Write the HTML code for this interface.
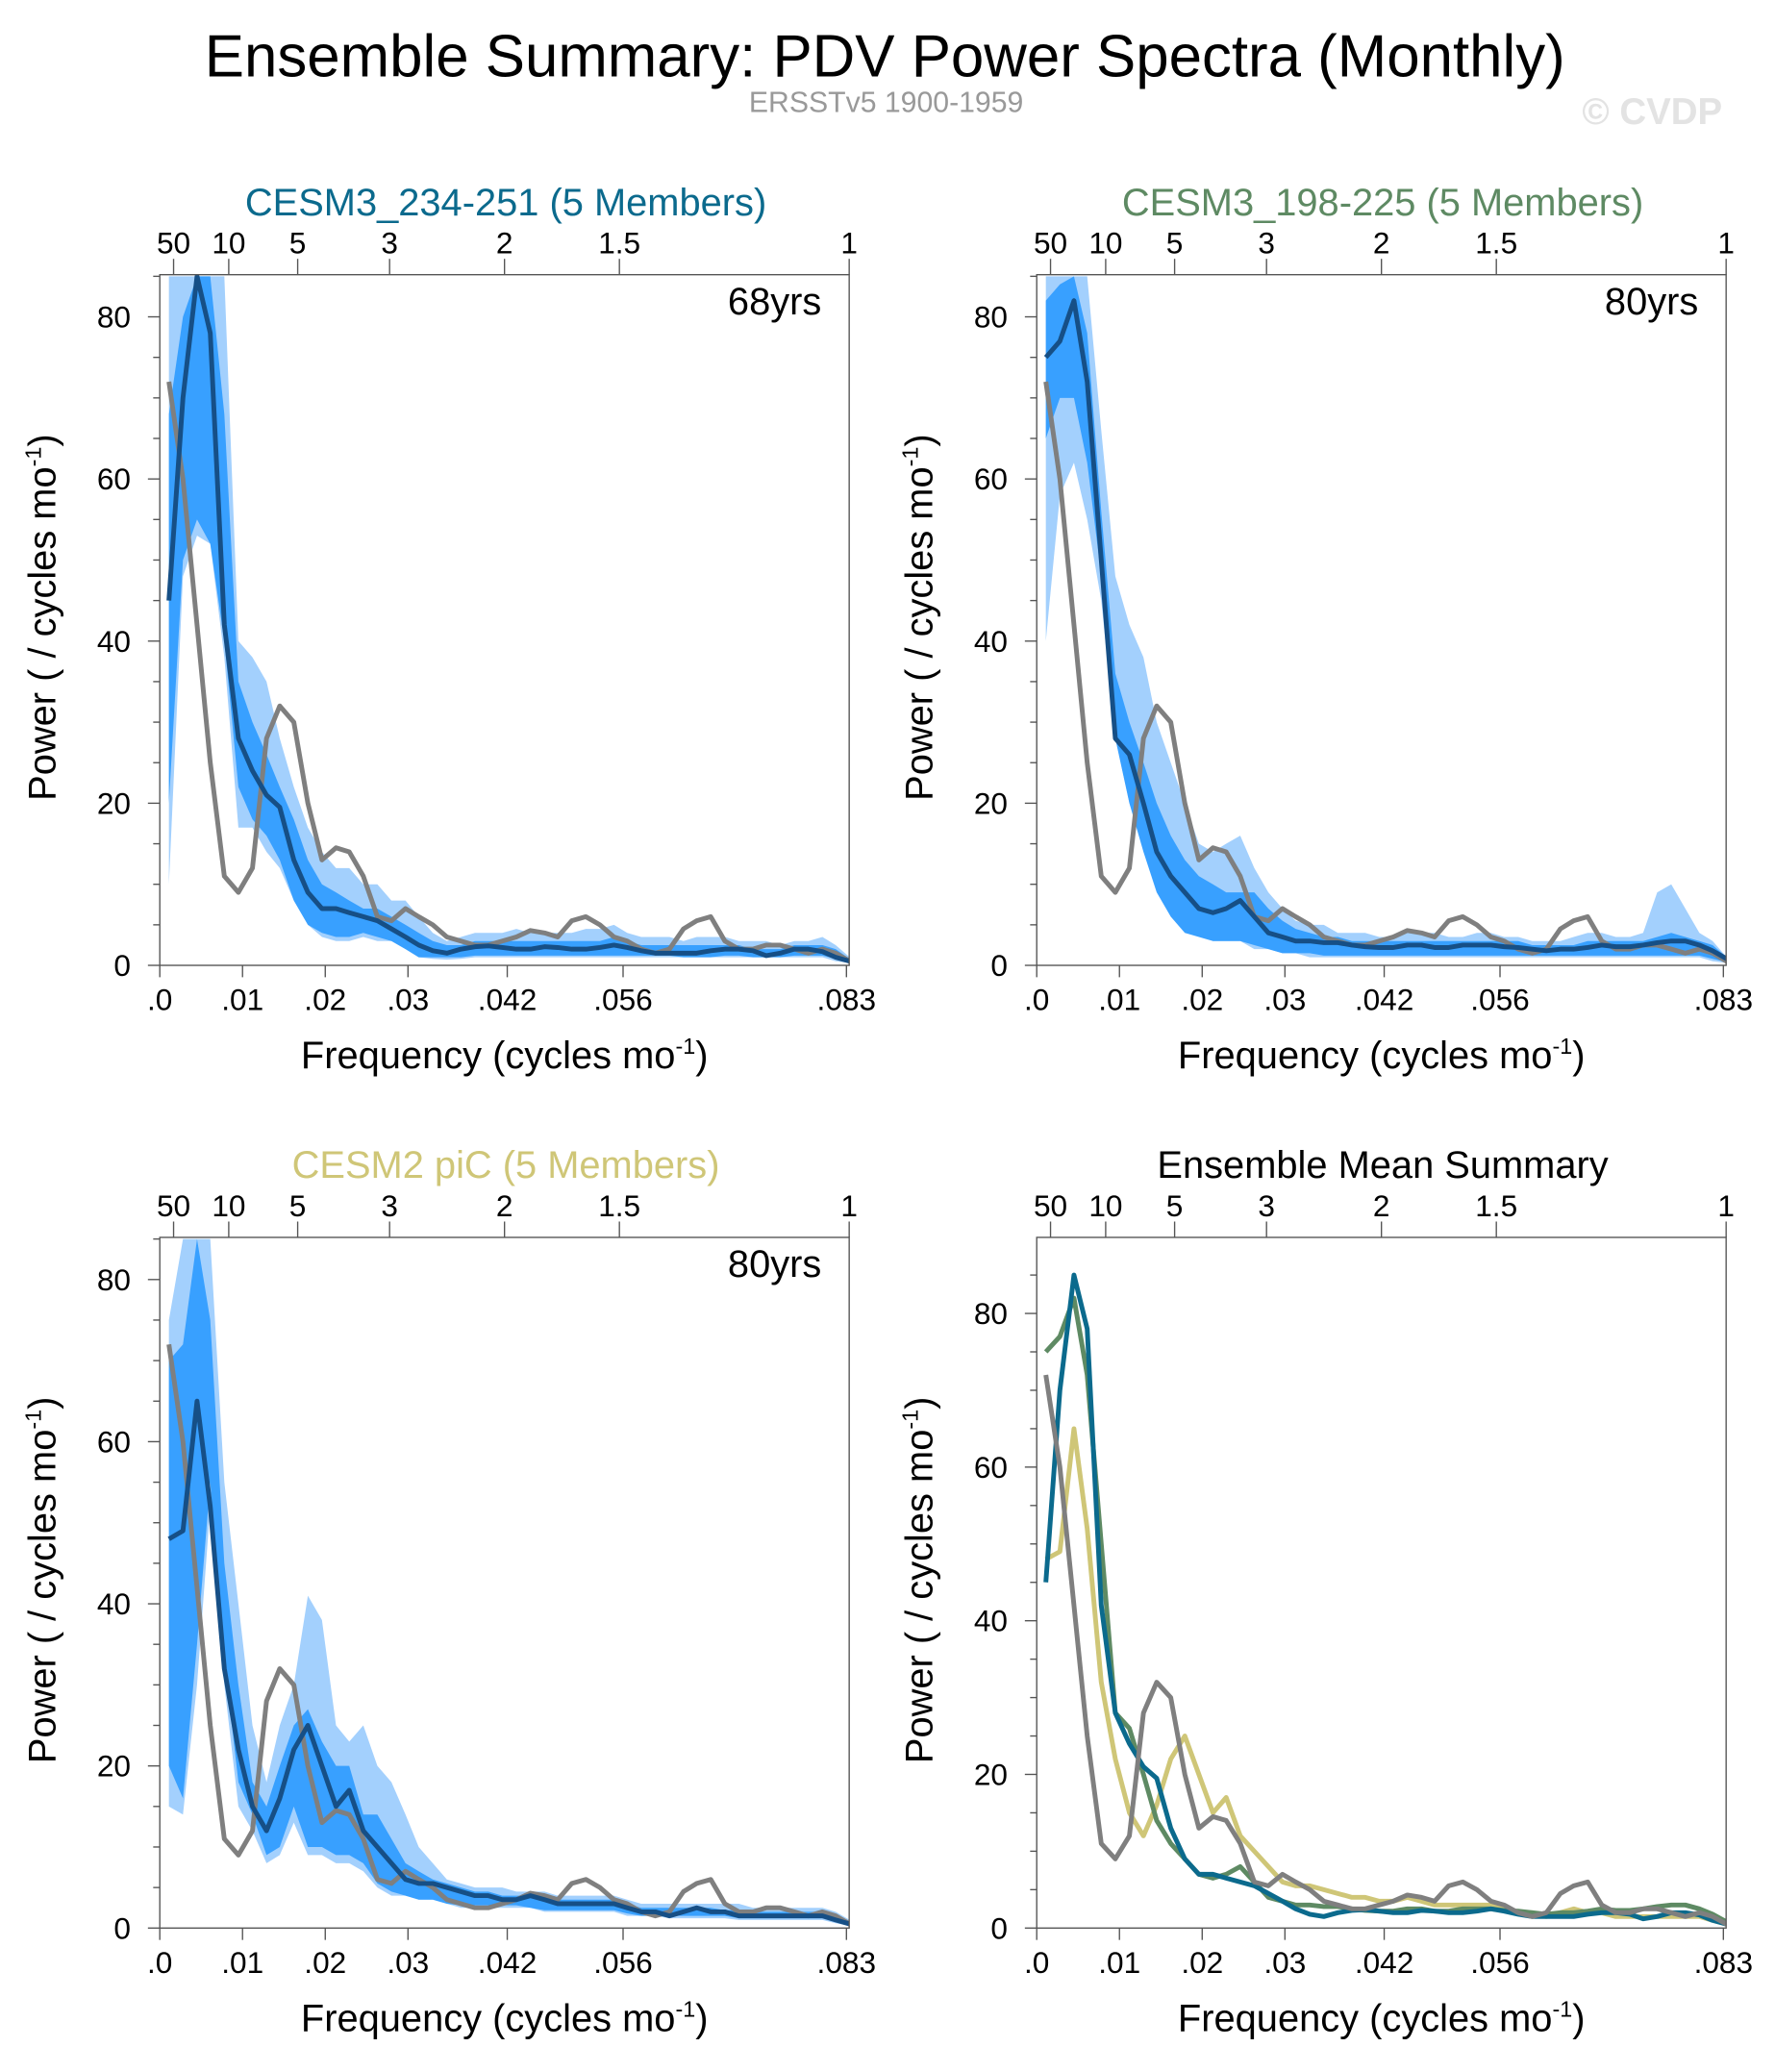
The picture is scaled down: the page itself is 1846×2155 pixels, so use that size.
<!DOCTYPE html>
<html><head><meta charset="utf-8">
<style>
html,body{margin:0;padding:0;background:#fff;}
svg{display:block;font-family:"Liberation Sans",sans-serif;}
</style></head>
<body>
<svg id="fig" width="1846" height="2155" viewBox="0 0 1344 1569" preserveAspectRatio="none" xmlns="http://www.w3.org/2000/svg">
<text x="670" y="58" font-size="45" text-anchor="middle" fill="#000">Ensemble Summary: PDV Power Spectra (Monthly)</text>
<text x="671" y="85" font-size="22" text-anchor="middle" fill="#999">ERSSTv5 1900-1959</text>
<text x="1251" y="94" font-size="28" font-weight="bold" text-anchor="middle" fill="#e3e3e3">© CVDP</text>
</svg>
<script>
// frequency (cycles per month)
const freqs = [0.0011,0.0028,0.0045,0.0061,0.0078,0.0095,0.0112,0.0129,0.0145,0.0162,0.0179,0.0196,0.0213,0.0229,0.0246,0.0263,0.0280,0.0297,0.0313,0.0330,0.0347,0.0364,0.0381,0.0397,0.0414,0.0431,0.0448,0.0465,0.0481,0.0498,0.0515,0.0532,0.0549,0.0565,0.0582,0.0599,0.0616,0.0633,0.0649,0.0666,0.0683,0.0700,0.0717,0.0733,0.0750,0.0767,0.0784,0.0801,0.0817,0.0834];
const obs = [72,60,42,25,11,9,12,28,32,30,20,13,14.5,14,11,6,5.5,7,6,5,3.5,3,2.5,2.5,3,3.5,4.3,4,3.5,5.5,6,5,3.5,3,2,1.5,2,4.5,5.5,6,3,2,2,2.5,2.5,2,1.5,2,1.5,0.5];
const mean1 = [45,70,85,78,42,28,24,21,19.5,13,9,7,7,6.5,6,5.5,4.5,3.5,2.5,1.8,1.5,2,2.3,2.4,2.2,2,2,2.3,2.2,2,2,2.2,2.5,2.2,1.8,1.5,1.5,1.5,1.5,1.8,2,2,1.8,1.2,1.5,2,2,1.7,1,0.5];
const lightHi1 = [85,85,85,85,85,40,38,35,28,22,17,14,12,12,10,10,8,8,6,4,3,3.5,4,4,4,4.5,4,4,4,4,4.5,4.5,5,4,3.5,3.5,3.5,3,3.5,3.5,3.5,3,3,3,2.5,3,3,3.5,2.5,1];
const lightLo1 = [10,48,53,52,38,17,17,14,12,8,5,3.5,3,3,3.5,3,3,2,1,0.8,0.7,0.8,1,1,1,1,1,1,1,1,1,1,1,1,1,1,1,1,1,1,1,1,1,1,1,1,1,1,0.5,0.3];
const midHi1 = [68,80,85,85,68,35,30,26,22,18,13,10,9,8,7,7,6,5,4,3,2.5,2.5,3,3,3,3,3,3,3,3,3,3,3.5,3,2.5,2.5,2.5,2.5,2.5,2.5,2.5,2.5,2,2,2,2.5,2.5,2.5,2,0.8];
const midLo1 = [20,50,55,52,40,22,18,16,13,8,5,4,3.5,3.5,4,3.5,3,2,1,1,1,1,1.2,1.2,1.2,1.2,1.2,1.2,1.2,1.2,1.2,1.2,1.2,1.2,1.2,1.2,1.2,1,1,1,1.2,1.2,1,1,1,1.2,1.2,1.2,0.8,0.3];
const mean2 = [75,77,82,72,50,28,26,20,14,11,9,7,6.5,7,8,6,4,3.5,3,3,2.8,2.8,2.5,2.3,2.2,2.2,2.5,2.5,2.2,2.2,2.5,2.5,2.5,2.3,2.2,2,1.8,2,2,2.2,2.5,2.3,2.3,2.5,2.8,3,3,2.5,1.8,0.8];
const lightHi2 = [85,85,85,85,66,48,42,38,30,25,20,15,14,15,16,12,9,7,5.5,5,5,4,4,4,3.5,3.5,4,4,4,3.5,3.5,4,4,3.5,3.5,3,3,3,3.5,4,4,3.5,3.5,4,9,10,7,4,3,1];
const lightLo2 = [40,58,62,55,45,28,20,15,10,7,5,4,3,3,3,2,2,1.5,1.5,1,1,1,1,1,1,1,1,1,1,1,1,1,1,1,1,1,1,1,1,1,1,1,1,1,1,1,1,1,0.5,0.3];
const midHi2 = [82,84,85,78,56,36,30,25,20,16,13,11,10,9,9,9,7,5.5,4.5,4,3.5,3.5,3,3,3,3,3,3,3,3,3,3,3,3,3,2.5,2.5,2.5,2.5,3,3,3,3,3,3.5,4,3.5,3,2.5,1];
const midLo2 = [65,70,70,62,48,28,20,14,9,6,4,3.5,3,3,3,2.5,2,1.5,1.5,1.5,1.2,1.2,1.2,1.2,1.2,1.2,1.2,1.2,1.2,1.2,1.2,1.2,1.2,1.2,1.2,1.2,1.2,1.2,1.2,1.2,1.2,1.2,1.2,1.2,1.2,1.2,1.2,1.2,0.8,0.4];
const mean3 = [48,49,65,52,32,22,15,12,16,22,25,20,15,17,12,10,8,6,5.5,5.5,5,4.5,4,4,3.5,3.5,4,3.5,3,3,3,3,3,2.5,2,2,1.5,2,2.5,2,2,1.5,1.5,1.5,1.5,1.5,1.5,1.5,1,0.5];
const lightHi3 = [75,85,85,85,55,40,25,18,25,30,41,38,25,23,25,20,18,14,10,8,6,5.5,5,5,5,4.5,4.5,4.5,4,4,4,4,4,3.5,3,3,3,3,3,3,3,3,2.5,2.5,2.5,2.5,2.5,2.5,2,1];
const lightLo3 = [15,14,30,52,30,15,12,8,9,13,9,9,8,8,7,5,4,4,3.5,3.5,3,2.5,2.5,2.5,2.5,2.5,2.5,2,2,2,2,2,2,1.5,1.5,1.5,1.2,1.2,1.2,1.2,1.2,1,1,1,1,1,1,1,0.6,0.3];
const midHi3 = [70,72,85,75,45,30,18,15,20,25,27,23,20,20,14,14,11,8,7,6,5.5,5,4.5,4.5,4,4,4,4,3.5,3.5,3.5,3.5,3.5,3,2.5,2.5,2.5,2.5,2.5,2.5,2.2,2.2,2,2,2,2,2,2,1.5,0.8];
const midLo3 = [20,16,35,55,33,18,14,9,10,15,10,10,9,9,8,5.5,4.5,4,3.5,3.5,3,2.8,2.8,2.8,2.8,2.8,2.5,2.2,2.2,2.2,2.2,2.2,2.2,1.8,1.5,1.5,1.5,1.5,1.5,1.5,1.5,1.2,1.2,1.2,1.2,1.2,1.2,1.2,0.8,0.4];
const freqTicks = [0,0.01,0.02,0.03,0.042,0.056,0.083];
const freqTickLabels = [".0",".01",".02",".03",".042",".056",".083"];
const periodTicks = [50,10,5,3,2,1.5,1];

const NS = "http://www.w3.org/2000/svg";
const svg = document.getElementById('fig');
function el(tag, attrs, parent){const e=document.createElementNS(NS,tag);for(const k in attrs)e.setAttribute(k,attrs[k]);(parent||svg).appendChild(e);return e;}

const C_LIGHT="#a3d0fd", C_MID="#38a0ff", C_MEAN="#164f86", C_OBS="#7f7f7f";
const C1="#0b6a8d", C2="#5e8a63", C3="#cfc677";

function panel(id, x0, y0, ymax, title, titleColor, yrsLabel, bands, lines){
  const W=522, H=523, xmax=1/12;
  const sx=f=>x0+f/xmax*W;
  const sy=v=>y0+H-v/ymax*H;
  const g=el('g',{});
  
  
  const cp=el('clipPath',{id:id+'-clip'},g);
  el('rect',{x:x0,y:y0,width:W,height:H},cp);
  const t=el('text',{x:x0+W/2+1,y:y0-45,'font-size':29,'text-anchor':'middle',fill:titleColor},g);
  t.textContent=title;
  
  
  const plot=el('g',{'clip-path':'url(#'+id+'-clip)'},g);
  bands.forEach(b=>{
    let pts=[];
    for(let i=0;i<freqs.length;i++)pts.push(sx(freqs[i])+','+sy(b.hi[i]));
    for(let i=freqs.length-1;i>=0;i--)pts.push(sx(freqs[i])+','+sy(b.lo[i]));
    const p=el('polygon',{points:pts.join(' '),fill:b.color},plot);
    
    
  });
  lines.forEach(l=>{
    const pts=freqs.map((f,i)=>sx(f)+','+sy(l.vals[i])).join(' ');
    const p=el('polyline',{points:pts,fill:'none',stroke:l.color,'stroke-width':3.6,'stroke-linejoin':'round'},plot);
    
    
  });
  const box=el('rect',{x:x0,y:y0,width:W,height:H,fill:'none',stroke:'#555','stroke-width':1},g);
  
  
  for(let v=0;v<=ymax;v+=5){
    const major=v%20===0;
    el('line',{x1:x0-(major?9:5),x2:x0,y1:sy(v),y2:sy(v),stroke:'#555','stroke-width':1},g);
    if(major){const tt=el('text',{x:x0-22,y:sy(v)+8,'font-size':23,'text-anchor':'end'},g);tt.textContent=v;
      
      }
  }
  freqTicks.forEach((f,i)=>{
    el('line',{x1:sx(f),x2:sx(f),y1:y0+H,y2:y0+H+9,stroke:'#555','stroke-width':1},g);
    const tt=el('text',{x:sx(f),y:y0+H+34,'font-size':23,'text-anchor':'middle'},g);
    tt.textContent=freqTickLabels[i];
    
    
  });
  periodTicks.forEach(p=>{
    const f=1/(12*p);
    el('line',{x1:sx(f),x2:sx(f),y1:y0,y2:y0-12,stroke:'#555','stroke-width':1},g);
    const tt=el('text',{x:sx(f),y:y0-16,'font-size':23,'text-anchor':'middle'},g);
    tt.textContent=p;
    
    
  });
  const xt=el('text',{x:x0+W/2,y:y0+H+78,'font-size':29,'text-anchor':'middle'},g);
  xt.innerHTML='Frequency (cycles mo<tspan dy="-11" font-size="17">-1</tspan><tspan dy="11">)</tspan>';
  
  
  const yt=el('text',{transform:'translate('+(x0-79)+','+(y0+H/2-2)+') rotate(-90)','font-size':29,'text-anchor':'middle'},g);
  yt.innerHTML='Power ( / cycles mo<tspan dy="-11" font-size="17">-1</tspan><tspan dy="11">)</tspan>';
  
  
  if(yrsLabel){const yl=el('text',{x:x0+W-21,y:y0+30,'font-size':29,'text-anchor':'end'},g);yl.textContent=yrsLabel;
    
    }
}
panel('cesm3-234',121,208,85.2,'CESM3_234-251 (5 Members)',C1,'68yrs',
  [{hi:lightHi1,lo:lightLo1,color:C_LIGHT,name:'spread-band-full'},{hi:midHi1,lo:midLo1,color:C_MID,name:'spread-band-inner'}],
  [{vals:obs,color:C_OBS,name:'obs-line'},{vals:mean1,color:C_MEAN,name:'ensemble-mean-line'}]);
panel('cesm3-198',785,208,85.2,'CESM3_198-225 (5 Members)',C2,'80yrs',
  [{hi:lightHi2,lo:lightLo2,color:C_LIGHT,name:'spread-band-full'},{hi:midHi2,lo:midLo2,color:C_MID,name:'spread-band-inner'}],
  [{vals:obs,color:C_OBS,name:'obs-line'},{vals:mean2,color:C_MEAN,name:'ensemble-mean-line'}]);
panel('cesm2-pic',121,937,85.2,'CESM2 piC (5 Members)',C3,'80yrs',
  [{hi:lightHi3,lo:lightLo3,color:C_LIGHT,name:'spread-band-full'},{hi:midHi3,lo:midLo3,color:C_MID,name:'spread-band-inner'}],
  [{vals:obs,color:C_OBS,name:'obs-line'},{vals:mean3,color:C_MEAN,name:'ensemble-mean-line'}]);
panel('ens-mean-summary',785,937,89.9,'Ensemble Mean Summary','#000',null,[],
  [{vals:mean3,color:C3,name:'cesm2-pic-mean-line'},{vals:mean2,color:C2,name:'cesm3-198-mean-line'},{vals:mean1,color:C1,name:'cesm3-234-mean-line'},{vals:obs,color:C_OBS,name:'obs-line'}]);
</script>
</body></html>
